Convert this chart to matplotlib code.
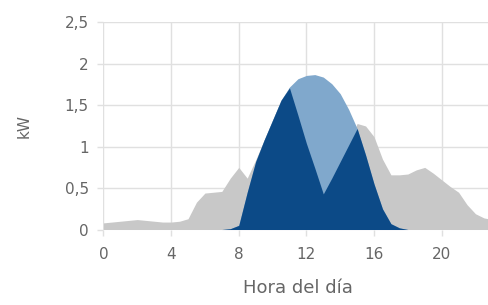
import matplotlib.pyplot as plt

# Horas (cada media hora)
horas = [0, 0.5, 1, 1.5, 2, 2.5, 3, 3.5, 4, 4.5, 5, 5.5, 6, 6.5, 7, 7.5, 8, 8.5,
         9, 9.5, 10, 10.5, 11, 11.5, 12, 12.5, 13, 13.5, 14, 14.5, 15, 15.5,
         16, 16.5, 17, 17.5, 18, 18.5, 19, 19.5, 20, 20.5, 21, 21.5, 22, 22.5, 23]

# Consumo de la vivienda (kW)
consumo = [0.08, 0.09, 0.10, 0.11, 0.12, 0.11, 0.10, 0.09, 0.09, 0.10, 0.13, 0.33,
           0.44, 0.45, 0.46, 0.62, 0.75, 0.62, 0.84, 1.08, 1.32, 1.56, 1.71, 1.38,
           1.04, 0.74, 0.43, 0.62, 0.82, 1.02, 1.28, 1.25, 1.12, 0.85, 0.66, 0.66,
           0.67, 0.72, 0.75, 0.68, 0.60, 0.52, 0.45, 0.30, 0.19, 0.14, 0.12]

# Produccion fotovoltaica (kW)
produccion = [0, 0, 0, 0, 0, 0, 0, 0, 0, 0, 0, 0,
              0, 0, 0, 0.01, 0.05, 0.45, 0.82, 1.08, 1.32, 1.56, 1.72, 1.82,
              1.86, 1.87, 1.84, 1.76, 1.64, 1.45, 1.22, 0.90, 0.55, 0.25, 0.07, 0.02,
              0, 0, 0, 0, 0, 0, 0, 0, 0, 0, 0]

# Autoconsumo (kW)
autoconsumo = [0, 0, 0, 0, 0, 0, 0, 0, 0, 0, 0, 0,
               0, 0, 0, 0.01, 0.05, 0.45, 0.82, 1.08, 1.32, 1.56, 1.71, 1.38,
               1.04, 0.74, 0.43, 0.62, 0.82, 1.02, 1.22, 0.90, 0.55, 0.25, 0.07, 0.02,
               0, 0, 0, 0, 0, 0, 0, 0, 0, 0, 0]

xticks = [0, 4, 8, 12, 16, 20]
yticks = [0, 0.5, 1, 1.5, 2, 2.5]
ytick_labels = ['0', '0,5', '1', '1,5', '2', '2,5']

gris_texto = '#666666'

fig = plt.figure(figsize=(4.88, 3.05), dpi=100)
ax = fig.add_axes([0.212, 0.2475, 0.797, 0.679])

ax.fill_between(horas, consumo, color='#c8c8c8', linewidth=0, zorder=2)
ax.fill_between(horas, produccion, color='#80a8cc', linewidth=0, zorder=3)
ax.fill_between(horas, autoconsumo, color='#0c4a87', linewidth=0, zorder=4)

ax.set_xlim(0, 23)
ax.set_ylim(0, 2.5)
ax.set_xticks(xticks)
ax.set_yticks(yticks)
ax.set_yticklabels(ytick_labels)
ax.grid(True, color='#e0e0e0', linewidth=1, zorder=1)
ax.set_axisbelow(True)
for s in ax.spines.values():
    s.set_visible(False)
ax.tick_params(colors='#e0e0e0', labelcolor=gris_texto, labelsize=11, length=4.5, width=1)
ax.tick_params(axis='y', pad=6)
ax.tick_params(axis='x', pad=8)

ax.set_xlabel('Hora del día', fontsize=13, color=gris_texto, labelpad=12)
ax.set_ylabel('kW', fontsize=11, color=gris_texto, labelpad=24)

fig.savefig('out.png', dpi=100)
